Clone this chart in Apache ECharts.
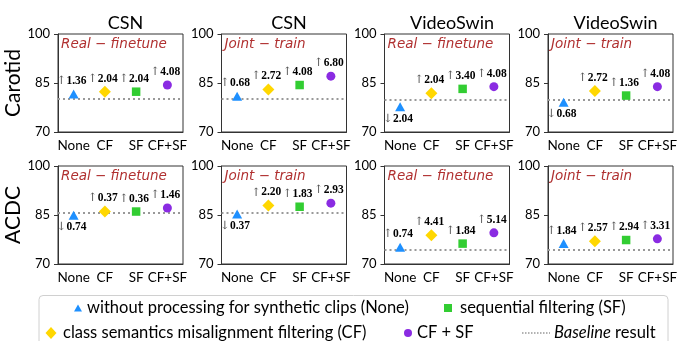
<!DOCTYPE html>
<html>
<head>
<meta charset="utf-8">
<script src="https://cdn.jsdelivr.net/npm/echarts@6/dist/echarts.min.js"></script>
<style>html,body{margin:0;padding:0;background:#fff}#c{width:682px;height:341px}</style>
</head>
<body>
<div id="c"></div>
<script>
// ---------- data ----------
const categories = ['None', 'CF', 'SF', 'CF+SF'];
const models = ['CSN', 'CSN', 'VideoSwin', 'VideoSwin'];
const settings = ['Real − finetune', 'Joint − train', 'Real − finetune', 'Joint − train'];
const datasets = ['Carotid', 'ACDC'];
const yTicks = [70, 85, 100];

const baselineCarotid = [80.3, 80.3, 79.8, 79.8];
const baselineACDC = [85.7, 85.7, 74.4, 74.4];

const carotidCSNReal = [81.66, 82.34, 82.34, 84.38];
const carotidCSNJoint = [80.98, 83.02, 84.38, 87.10];
const carotidSwinReal = [77.76, 81.84, 83.20, 83.88];
const carotidSwinJoint = [79.12, 82.52, 81.16, 83.88];
const acdcCSNReal = [84.96, 86.07, 86.06, 87.16];
const acdcCSNJoint = [85.33, 87.90, 87.53, 88.63];
const acdcSwinReal = [75.14, 78.81, 76.24, 79.54];
const acdcSwinJoint = [76.24, 76.97, 77.34, 77.71];

const dCarotidCSNReal = ['↑', '1.36', '↑', '2.04', '↑', '2.04', '↑', '4.08'];
const dCarotidCSNJoint = ['↑', '0.68', '↑', '2.72', '↑', '4.08', '↑', '6.80'];
const dCarotidSwinReal = ['↓', '2.04', '↑', '2.04', '↑', '3.40', '↑', '4.08'];
const dCarotidSwinJoint = ['↓', '0.68', '↑', '2.72', '↑', '1.36', '↑', '4.08'];
const dAcdcCSNReal = ['↓', '0.74', '↑', '0.37', '↑', '0.36', '↑', '1.46'];
const dAcdcCSNJoint = ['↓', '0.37', '↑', '2.20', '↑', '1.83', '↑', '2.93'];
const dAcdcSwinReal = ['↑', '0.74', '↑', '4.41', '↑', '1.84', '↑', '5.14'];
const dAcdcSwinJoint = ['↑', '1.84', '↑', '2.57', '↑', '2.94', '↑', '3.31'];

const legendNames = [
  'without processing for synthetic clips (None)',
  'class semantics misalignment filtering (CF)',
  'sequential filtering (SF)',
  'CF + SF'
];

// ---------- layout / style ----------
const panelValues = [carotidCSNReal, carotidCSNJoint, carotidSwinReal, carotidSwinJoint,
                     acdcCSNReal, acdcCSNJoint, acdcSwinReal, acdcSwinJoint];
const panelDeltas = [dCarotidCSNReal, dCarotidCSNJoint, dCarotidSwinReal, dCarotidSwinJoint,
                     dAcdcCSNReal, dAcdcCSNJoint, dAcdcSwinReal, dAcdcSwinJoint];
const panelBase = baselineCarotid.concat(baselineACDC);

const lefts = [58, 221.5, 384.5, 548];
const tops = [34, 166];
const W = 125, H = 98;
const colors = ['#1e90ff', '#ffd700', '#32cd32', '#8a2be2'];
const symbols = ['triangle', 'diamond', 'rect', 'circle'];
const sizes = [[10, 9], [12, 12], [8.5, 8.5], [9, 9]];
const FONT = 'Lato, "Open Sans", sans-serif';

const grid = [], xAxis = [], yAxis = [], series = [], title = [], graphic = [];

for (let r = 0; r < 2; r++) {
  for (let c = 0; c < 4; c++) {
    const i = r * 4 + c;
    grid.push({left: lefts[c], top: tops[r], width: W, height: H,
               show: true, borderColor: '#333', borderWidth: 1, backgroundColor: 'transparent'});
    xAxis.push({type: 'category', gridIndex: i, data: categories, boundaryGap: true,
      axisLine: {lineStyle: {color: '#333', width: 1}},
      axisTick: {alignWithLabel: true, length: 4, lineStyle: {color: '#333'}},
      axisLabel: {interval: 0, margin: 7, fontSize: 13.5, color: '#000', fontFamily: FONT},
      splitLine: {show: false}});
    yAxis.push({type: 'value', gridIndex: i, min: 70, max: 100, interval: 15,
      axisLine: {show: true, lineStyle: {color: '#333', width: 1}},
      axisTick: {show: true, length: 4, lineStyle: {color: '#333'}},
      axisLabel: {margin: 8, fontSize: 13, color: '#000', fontFamily: FONT,
                  formatter: v => yTicks.includes(v) ? String(v) : ''},
      splitLine: {show: false},
      name: c === 0 ? datasets[r] : '', nameLocation: 'middle', nameRotate: 90, nameGap: 32,
      nameTextStyle: {fontSize: 21, color: '#000', fontFamily: FONT}});
    if (r === 0) {
      title.push({text: models[c], left: lefts[c] + W / 2, top: 9, textAlign: 'center',
        textStyle: {fontSize: 18, fontWeight: 'normal', color: '#000', fontFamily: FONT}});
    }
    graphic.push({type: 'text', left: lefts[c] + 3, top: tops[r] + 3,
      style: {text: settings[c], fill: '#b03030', font: 'italic 13.5px "DejaVu Sans", sans-serif'}});

    for (let m = 0; m < 4; m++) {
      const arrow = panelDeltas[i][2 * m], num = panelDeltas[i][2 * m + 1];
      const s = {
        type: 'scatter', name: legendNames[m], xAxisIndex: i, yAxisIndex: i,
        symbol: symbols[m], symbolSize: sizes[m], itemStyle: {color: colors[m], opacity: 1},
        data: [[m, panelValues[i][m]]],
        label: {show: true, position: 'inside', offset: [-2, arrow === '↑' ? -13 : 12],
          formatter: '{a|' + arrow + '}{n|' + num + '}',
          rich: {
            a: {fontSize: 11.5, color: '#555', fontFamily: '"DejaVu Serif", serif'},
            n: {fontSize: 11.5, color: '#000', fontWeight: 'bold', fontFamily: '"Liberation Serif", "Times New Roman", serif'}
          }},
        emphasis: {disabled: true}, z: 3
      };
      if (m === 0) {
        s.markLine = {silent: true, symbol: ['none', 'none'], label: {show: false},
          lineStyle: {type: [2, 3], color: '#999', width: 2},
          data: [{yAxis: panelBase[i]}], z: 1};
      }
      series.push(s);
    }
  }
}

// ---------- legend box ----------
const LF = '16.5px ' + FONT;
graphic.push({type: 'rect', shape: {x: 39, y: 295.5, width: 629, height: 52, r: 4},
  style: {fill: '#fff', stroke: '#d0d0d0', lineWidth: 1}, z: 10});
graphic.push({type: 'polygon', shape: {points: [[78, 304.5], [82, 311.5], [74, 311.5]]}, style: {fill: colors[0]}, z: 11});
graphic.push({type: 'text', x: 87, y: 308, style: {text: legendNames[0], font: LF, fill: '#000', textVerticalAlign: 'middle'}, z: 11});
graphic.push({type: 'rect', shape: {x: 444, y: 304, width: 8, height: 8}, style: {fill: colors[2]}, z: 11});
graphic.push({type: 'text', x: 460, y: 308, style: {text: legendNames[2], font: LF, fill: '#000', textVerticalAlign: 'middle'}, z: 11});
graphic.push({type: 'polygon', shape: {points: [[51, 327], [56.5, 333], [51, 339], [45.5, 333]]}, style: {fill: colors[1]}, z: 11});
graphic.push({type: 'text', x: 63, y: 333, style: {text: legendNames[1], font: LF, fill: '#000', textVerticalAlign: 'middle'}, z: 11});
graphic.push({type: 'circle', shape: {cx: 408, cy: 333, r: 4}, style: {fill: colors[3]}, z: 11});
graphic.push({type: 'text', x: 417, y: 333, style: {text: legendNames[3], font: LF, fill: '#000', textVerticalAlign: 'middle'}, z: 11});
graphic.push({type: 'line', shape: {x1: 522, y1: 333, x2: 550, y2: 333},
  style: {stroke: '#999', lineWidth: 1.5, lineDash: [1.5, 1.5]}, z: 11});
graphic.push({type: 'text', x: 554, y: 333, style: {text: '{i|Baseline} result', font: LF, fill: '#000', textVerticalAlign: 'middle',
  rich: {i: {fontStyle: 'italic', fontSize: 16.5, fontFamily: FONT}}}, z: 11});

const chart = echarts.init(document.getElementById('c'), null, {renderer: 'canvas'});
chart.setOption({animation: false, backgroundColor: '#fff', title, grid, xAxis, yAxis, series, graphic,
  textStyle: {fontFamily: FONT}});
</script>
</body>
</html>
